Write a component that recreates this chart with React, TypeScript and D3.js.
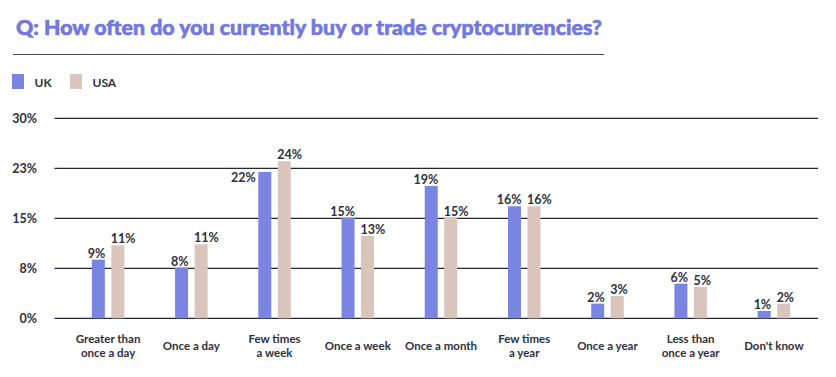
import React from "react";
import * as d3 from "d3";

const categories = [
  "Greater than once a day",
  "Once a day",
  "Few times a week",
  "Once a week",
  "Once a month",
  "Few times a year",
  "Once a year",
  "Less than once a year",
  "Don't know",
];
const categoryLines = [
  ["Greater than", "once a day"],
  ["Once a day"],
  ["Few times", "a week"],
  ["Once a week"],
  ["Once a month"],
  ["Few times", "a year"],
  ["Once a year"],
  ["Less than", "once a year"],
  ["Don't know"],
];
const series = ["UK", "USA"];
const ukValues = [8.8, 7.6, 21.95, 15.1, 19.85, 16.8, 2.2, 5.2, 1.1];
const usaValues = [10.95, 11.1, 23.55, 12.35, 15.1, 16.8, 3.35, 4.7, 2.2];
const ukLabels = ["9%", "8%", "22%", "15%", "19%", "16%", "2%", "6%", "1%"];
const usaLabels = ["11%", "11%", "24%", "13%", "15%", "16%", "3%", "5%", "2%"];
const yTicks = [0, 7.5, 15, 22.5, 30];
const yTickLabels = ["0%", "8%", "15%", "23%", "30%"];
const ukLabelBeside = ["Few times a week"];

const title = "Q: How often do you currently buy or trade cryptocurrencies?";
const colors = { UK: "#7a85e2", USA: "#d9c5bc" };
const textColor = "#2e2f40";
const font = "Lato, 'Open Sans', sans-serif";

export default function App() {
  const width = 836;
  const height = 377;
  const y = d3.scaleLinear().domain([0, 30]).range([318.3, 118.3]);
  const x0 = d3.scaleBand<string>().domain(categories).range([66.5, 815.5]);
  const x1 = d3
    .scaleBand<string>()
    .domain(series)
    .range([0, 32.5])
    .paddingInner(1 / 3);
  const bw = x1.bandwidth();
  const groupOffset = (x0.bandwidth() - 32.5) / 2;

  return (
    <svg
      width={width}
      height={height}
      style={{ position: "absolute", left: 0, top: 0, background: "#fff" }}
      fontFamily={font}
    >
      <text
        x={16}
        y={35}
        fill="#7379dc"
        stroke="#7379dc"
        strokeWidth={0.6}
        fontSize={20.5}
        fontWeight={900}
        textLength={586}
        lengthAdjust="spacingAndGlyphs"
      >
        {title}
      </text>
      <line x1={13} x2={604} y1={54.5} y2={54.5} stroke="#4a4a55" strokeWidth={1} />

      {/* legend */}
      {series.map((s, i) => {
        const lx = i === 0 ? 12 : 70;
        return (
          <g key={s}>
            <rect x={lx} y={74} width={12} height={15} fill={colors[s]} />
            <text x={lx + 22.5} y={86.5} fontSize={12} fontWeight={700} fill={textColor}>
              {s}
            </text>
          </g>
        );
      })}

      {/* grid */}
      {yTicks.map((t, i) => (
        <g key={t}>
          <line x1={54.5} x2={818} y1={y(t)} y2={y(t)} stroke="#262633" strokeWidth={1.2} />
          <text
            x={37}
            y={y(t)}
            dy="0.36em"
            textAnchor="end"
            fontSize={12.5}
            fontWeight={700}
            fill={textColor}
          >
            {yTickLabels[i]}
          </text>
        </g>
      ))}

      {/* bars */}
      {categories.map((c, ci) => {
        const gx = (x0(c) as number) + groupOffset;
        const ukX = gx + (x1("UK") as number);
        const usX = gx + (x1("USA") as number);
        const ukTop = y(ukValues[ci]);
        const usTop = y(usaValues[ci]);
        const beside = ukLabelBeside.includes(c);
        return (
          <g key={c}>
            <rect x={ukX} y={ukTop} width={bw} height={y(0) - ukTop} fill={colors.UK} />
            <rect x={usX} y={usTop} width={bw} height={y(0) - usTop} fill={colors.USA} />
            <text
              x={beside ? ukX - 2.5 : ukX + bw + 0.5}
              y={beside ? ukTop + 10 : ukTop - 2}
              textAnchor="end"
              fontSize={12.5}
              fontWeight={700}
              fill={textColor}
            >
              {ukLabels[ci]}
            </text>
            <text
              x={usX - 0.5}
              y={usTop - 2}
              textAnchor="start"
              fontSize={12.5}
              fontWeight={700}
              fill={textColor}
            >
              {usaLabels[ci]}
            </text>
            {categoryLines[ci].map((line, li) => {
              const n = categoryLines[ci].length;
              const baseY = n === 1 ? 350 : 343.3 + li * 13.4;
              return (
                <text
                  key={li}
                  x={(x0(c) as number) + x0.bandwidth() / 2}
                  y={baseY}
                  textAnchor="middle"
                  fontSize={11.5}
                  fontWeight={700}
                  fill={textColor}
                >
                  {line}
                </text>
              );
            })}
          </g>
        );
      })}
    </svg>
  );
}
